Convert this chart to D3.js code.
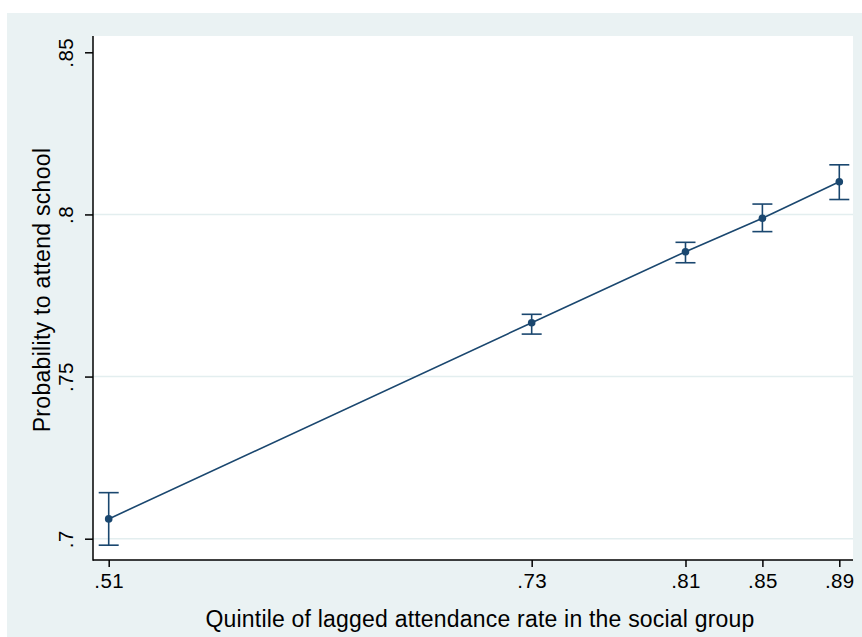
<!DOCTYPE html>
<html><head><meta charset="utf-8">
<script src="https://cdn.jsdelivr.net/npm/d3@7"></script>
<style>body{margin:0;background:#fff;}svg{display:block;font-family:"Liberation Sans",Arial,sans-serif;}</style>
</head><body>
<svg id="c" width="862" height="637"></svg>
<script>
const quintiles = [0.51, 0.73, 0.81, 0.85, 0.89];
const xTickLabels = [".51", ".73", ".81", ".85", ".89"];
const estimates = [0.7061, 0.7666, 0.7885, 0.7988, 0.8101];
const ciLower = [0.6980, 0.7631, 0.7851, 0.7947, 0.8046];
const ciUpper = [0.7142, 0.7692, 0.7914, 0.8032, 0.8153];
const yTicks = [0.7, 0.75, 0.8, 0.85];
const yTickLabels = [".7", ".75", ".8", ".85"];
const gridTicks = [0.7, 0.75, 0.8];
const xTitle = "Quintile of lagged attendance rate in the social group";
const yTitle = "Probability to attend school";

const svg = d3.select("#c");
const col = "#1a476f";
svg.append("rect").attr("x",7).attr("y",13).attr("width",855).attr("height",624).attr("fill","#eaf2f3");
const L=93,R=853,T=36,B=560;
svg.append("rect").attr("x",L).attr("y",T).attr("width",R-L).attr("height",B-T).attr("fill","#fff");

const x = d3.scaleLinear().domain([0.51,0.89]).range([108.7,839.3]);
const y = d3.scaleLinear().domain([0.7,0.85]).range([538.7,52.3]);

svg.append("g").selectAll("line").data(gridTicks).join("line")
  .attr("x1",L).attr("x2",R).attr("y1",d=>y(d)).attr("y2",d=>y(d))
  .attr("stroke","#e3eeef").attr("stroke-width",1.5);

const yAxis = d3.axisLeft(y).tickValues(yTicks).tickFormat((d,i)=>yTickLabels[i]).tickSize(8).tickPadding(0);
const gy = svg.append("g").attr("transform",`translate(${L},0)`).call(yAxis);
gy.select(".domain").remove();
gy.selectAll(".tick line").attr("stroke","#000").attr("stroke-width",1.5);
gy.selectAll(".tick text").attr("font-size",20.5).attr("fill","#000").attr("letter-spacing",0.4)
  .attr("text-anchor","middle").attr("transform","translate(-27,0) rotate(-90)").attr("x",0).attr("dy","0.35em");

const xAxis = d3.axisBottom(x).tickValues(quintiles).tickFormat((d,i)=>xTickLabels[i]).tickSize(7).tickPadding(6);
const gx = svg.append("g").attr("transform",`translate(0,${B})`).call(xAxis);
gx.select(".domain").remove();
gx.selectAll(".tick line").attr("stroke","#000").attr("stroke-width",1.5);
gx.selectAll(".tick text").attr("font-size",20.5).attr("fill","#000").attr("letter-spacing",0.4);

svg.append("line").attr("x1",L).attr("x2",L).attr("y1",T).attr("y2",B+0.75).attr("stroke","#000").attr("stroke-width",1.5);
svg.append("line").attr("x1",L).attr("x2",R).attr("y1",B).attr("y2",B).attr("stroke","#000").attr("stroke-width",1.5);

svg.append("text").attr("x",480).attr("y",627).attr("text-anchor","middle")
  .attr("font-size",23).attr("letter-spacing",0.2).attr("fill","#000").text(xTitle);
svg.append("text").attr("transform",`translate(50,290) rotate(-90)`).attr("text-anchor","middle")
  .attr("font-size",23).attr("letter-spacing",0.3).attr("fill","#000").text(yTitle);

const data = quintiles.map((q,i)=>({q, e:estimates[i], lo:ciLower[i], hi:ciUpper[i]}));
svg.append("path").datum(data).attr("fill","none").attr("stroke",col).attr("stroke-width",1.6)
  .attr("d", d3.line().x(d=>x(d.q)).y(d=>y(d.e)));
const eb = svg.append("g").attr("stroke",col).attr("stroke-width",1.6);
eb.selectAll(".v").data(data).join("line").attr("x1",d=>x(d.q)).attr("x2",d=>x(d.q)).attr("y1",d=>y(d.lo)).attr("y2",d=>y(d.hi));
eb.selectAll(".t").data(data).join("line").attr("x1",d=>x(d.q)-10).attr("x2",d=>x(d.q)+10).attr("y1",d=>y(d.hi)).attr("y2",d=>y(d.hi));
eb.selectAll(".b").data(data).join("line").attr("x1",d=>x(d.q)-10).attr("x2",d=>x(d.q)+10).attr("y1",d=>y(d.lo)).attr("y2",d=>y(d.lo));
svg.append("g").selectAll("circle").data(data).join("circle")
  .attr("cx",d=>x(d.q)).attr("cy",d=>y(d.e)).attr("r",3.8).attr("fill",col);
</script>
</body></html>
